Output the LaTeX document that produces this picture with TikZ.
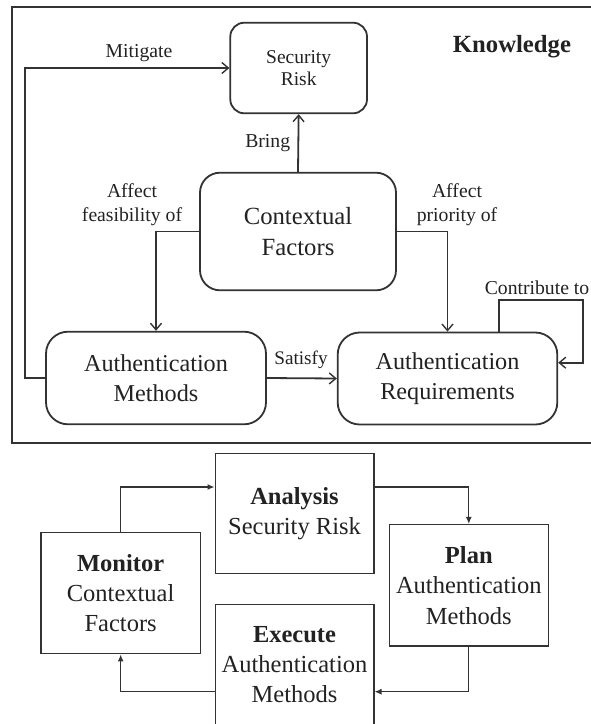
\documentclass[tikz,border=0pt]{standalone}
\usepackage{fontspec}
\setmainfont{Liberation Serif}
\usetikzlibrary{arrows.meta}
\definecolor{ink}{HTML}{222222}
\definecolor{linec}{HTML}{333333}
\begin{document}
\begin{tikzpicture}[x=1pt,y=-1pt,
  every node/.style={text=ink},
  rbox/.style={draw=linec, line width=1.8pt, rounded corners=20pt, align=center, inner sep=1pt},
  sbox/.style={draw=linec, line width=1.5pt, align=center, inner sep=1pt, minimum width=158.5pt, minimum height=120pt, font=\fontsize{24.5}{30.3}\selectfont},
  karrow/.style={draw=linec, line width=1.8pt, -{Straight Barb[length=6.5pt,width=11pt,line width=1.4pt]}},
  larrow/.style={draw=linec, line width=1.3pt, -{Latex[length=7pt,width=6pt]}},
  lbl/.style={font=\fontsize{19.7}{24}\selectfont, align=center, inner sep=0pt},
]
\path[use as bounding box, fill=white] (0,0) rectangle (591,724);
\clip (0,0) rectangle (591,724);

% Knowledge frame
\draw[linec, line width=1.7pt] (12.3,7) rectangle (620,442.7);
\node[font=\fontsize{24.7}{28}\selectfont\bfseries] (kn) at (512,46.7) {Knowledge};

% Top nodes
\node[rbox, minimum width=136.7pt, minimum height=90.6pt, rounded corners=14pt, font=\fontsize{19.5}{22.5}\selectfont] (SR) at (298.65,68) {Security\\Risk};
\node[rbox, minimum width=196pt, minimum height=117.6pt, font=\fontsize{24.7}{31}\selectfont] (CF) at (298,231.5) {Contextual\\Factors};
\node[rbox, minimum width=220pt, minimum height=92.6pt, rounded corners=22pt, font=\fontsize{24.2}{30.5}\selectfont] (AM) at (156,378) {Authentication\\Methods};
\node[rbox, minimum width=219.6pt, minimum height=92pt, rounded corners=22pt, font=\fontsize{24.2}{30.5}\selectfont] (AR) at (447.5,378.5) {Authentication\\Requirements};

% Top connectors
\draw[karrow] (CF.north) -- (SR.south);
\draw[karrow] (AM.west) -- ++(-20.3,0) |- (SR.west);
\draw[karrow] (CF.west) -| (AM.north);
\draw[karrow] (CF.east) -| (AR.north);
\draw[karrow] (AM.east) -- (AR.west);
\draw[karrow] ([xshift=51.8pt]AR.north) -- ++(0,-31.3) -- ++(84,0) |- ([yshift=15.8pt]AR.east);

% Top labels
\node[lbl] (lmit) at (139,53) {Mitigate};
\node[lbl] (lbring) at (267.7,142.7) {Bring};
\node[lbl] (lfeas) at (132,205) {Affect\\feasibility of};
\node[lbl] (lprio) at (457,205) {Affect\\priority of};
\node[lbl, font=\fontsize{19.2}{24}\selectfont] (lsat) at (301,360) {Satisfy};
\node[lbl, anchor=east] (lcon) at (589.5,287.7) {Contribute to};

% Lower nodes
\node[sbox] (AN) at (294.5,513.7) {\textbf{Analysis}\\Security Risk};
\node[sbox, minimum width=159.3pt, minimum height=121pt] (MO) at (120.65,593.2) {\textbf{Monitor}\\Contextual\\Factors};
\node[sbox, minimum width=159pt, minimum height=121.3pt] (PL) at (468.8,585.35) {\textbf{Plan}\\Authentication\\Methods};
\node[sbox] (EX) at (294.5,664.7) {\textbf{Execute}\\Authentication\\Methods};

% Lower connectors
\draw[larrow] (MO.north) |- ([yshift=26.7pt]AN.west);
\draw[larrow] ([yshift=26.7pt]AN.east) -| (PL.north);
\draw[larrow] (PL.south) |- ([yshift=-27pt]EX.east);
\draw[larrow] ([yshift=-27pt]EX.west) -| (MO.south);
\end{tikzpicture}
\end{document}
